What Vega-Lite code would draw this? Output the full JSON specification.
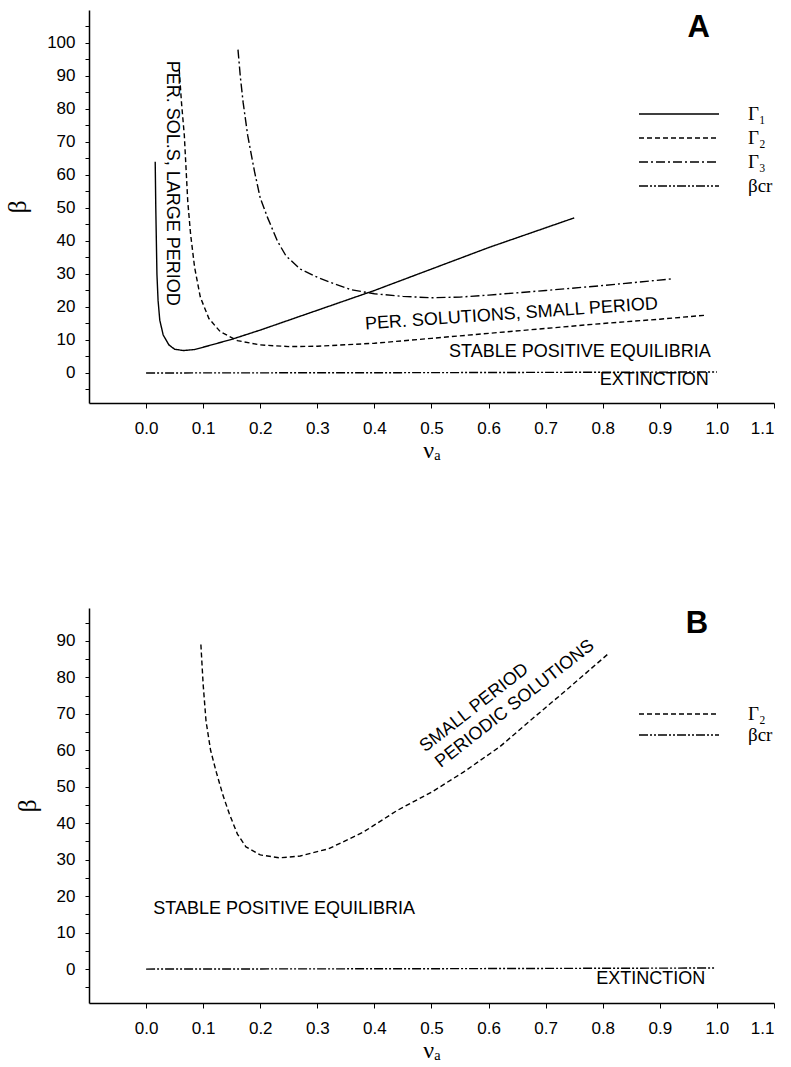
{
  "$schema": "https://vega.github.io/schema/vega-lite/v6.json",
  "padding": {"left": 4, "top": 10, "right": 5, "bottom": 3},
  "background": "white",
  "config": {
    "view": {"stroke": null},
    "font": "Liberation Sans",
    "axis": {"grid": false, "domainColor": "black", "domainWidth": 1.5, "tickColor": "black", "tickWidth": 1, "labelColor": "black", "labelFont": "Liberation Sans", "labelFontSize": 17, "titleColor": "black", "titleFont": "Liberation Serif", "titleFontWeight": "normal"},
    "legend": {"title": null, "orient": "none", "symbolType": "M-4,0H4", "symbolSize": 400, "symbolStrokeWidth": 1.4, "symbolStrokeColor": "black", "labelFont": "Liberation Serif", "labelFontSize": 19, "labelColor": "black", "labelOffset": 58}
  },
  "datasets": {
    "curvesA": [
      {"curve": "Γ₁", "x": 0.016, "y": 64},
      {"curve": "Γ₁", "x": 0.017, "y": 50},
      {"curve": "Γ₁", "x": 0.018, "y": 40},
      {"curve": "Γ₁", "x": 0.019, "y": 30},
      {"curve": "Γ₁", "x": 0.021, "y": 22},
      {"curve": "Γ₁", "x": 0.024, "y": 16},
      {"curve": "Γ₁", "x": 0.03, "y": 11.5},
      {"curve": "Γ₁", "x": 0.04, "y": 8.5},
      {"curve": "Γ₁", "x": 0.05, "y": 7.2},
      {"curve": "Γ₁", "x": 0.065, "y": 6.8},
      {"curve": "Γ₁", "x": 0.085, "y": 7.1},
      {"curve": "Γ₁", "x": 0.1, "y": 7.8},
      {"curve": "Γ₁", "x": 0.15, "y": 10.2},
      {"curve": "Γ₁", "x": 0.2, "y": 13},
      {"curve": "Γ₁", "x": 0.3, "y": 19},
      {"curve": "Γ₁", "x": 0.4, "y": 25},
      {"curve": "Γ₁", "x": 0.5, "y": 31.5},
      {"curve": "Γ₁", "x": 0.6, "y": 38},
      {"curve": "Γ₁", "x": 0.7, "y": 44},
      {"curve": "Γ₁", "x": 0.75, "y": 47},
      {"curve": "Γ₂", "x": 0.058, "y": 92},
      {"curve": "Γ₂", "x": 0.062, "y": 82},
      {"curve": "Γ₂", "x": 0.067, "y": 72},
      {"curve": "Γ₂", "x": 0.07, "y": 62},
      {"curve": "Γ₂", "x": 0.073, "y": 52},
      {"curve": "Γ₂", "x": 0.078, "y": 42},
      {"curve": "Γ₂", "x": 0.085, "y": 32},
      {"curve": "Γ₂", "x": 0.095, "y": 23},
      {"curve": "Γ₂", "x": 0.11, "y": 16.5},
      {"curve": "Γ₂", "x": 0.13, "y": 12.5},
      {"curve": "Γ₂", "x": 0.16, "y": 9.8},
      {"curve": "Γ₂", "x": 0.2, "y": 8.5},
      {"curve": "Γ₂", "x": 0.25, "y": 8},
      {"curve": "Γ₂", "x": 0.3, "y": 8.1},
      {"curve": "Γ₂", "x": 0.4, "y": 9},
      {"curve": "Γ₂", "x": 0.5, "y": 10.5},
      {"curve": "Γ₂", "x": 0.6, "y": 12},
      {"curve": "Γ₂", "x": 0.7, "y": 13.5},
      {"curve": "Γ₂", "x": 0.8, "y": 15},
      {"curve": "Γ₂", "x": 0.9, "y": 16.3},
      {"curve": "Γ₂", "x": 0.98, "y": 17.5},
      {"curve": "Γ₃", "x": 0.161, "y": 98},
      {"curve": "Γ₃", "x": 0.165, "y": 90},
      {"curve": "Γ₃", "x": 0.17, "y": 82},
      {"curve": "Γ₃", "x": 0.178, "y": 72},
      {"curve": "Γ₃", "x": 0.19, "y": 61},
      {"curve": "Γ₃", "x": 0.2, "y": 53},
      {"curve": "Γ₃", "x": 0.213, "y": 47},
      {"curve": "Γ₃", "x": 0.23, "y": 40},
      {"curve": "Γ₃", "x": 0.245, "y": 35.5},
      {"curve": "Γ₃", "x": 0.27, "y": 31.5},
      {"curve": "Γ₃", "x": 0.3, "y": 29},
      {"curve": "Γ₃", "x": 0.33, "y": 27},
      {"curve": "Γ₃", "x": 0.36, "y": 25.2},
      {"curve": "Γ₃", "x": 0.4, "y": 24},
      {"curve": "Γ₃", "x": 0.45, "y": 23.2},
      {"curve": "Γ₃", "x": 0.5, "y": 22.8},
      {"curve": "Γ₃", "x": 0.55, "y": 23},
      {"curve": "Γ₃", "x": 0.6, "y": 23.6},
      {"curve": "Γ₃", "x": 0.7, "y": 25},
      {"curve": "Γ₃", "x": 0.8, "y": 26.5},
      {"curve": "Γ₃", "x": 0.92, "y": 28.5},
      {"curve": "βcr", "x": 0.0, "y": 0},
      {"curve": "βcr", "x": 0.5, "y": 0.1},
      {"curve": "βcr", "x": 1.0, "y": 0.3}
    ],
    "curvesB": [
      {"curve": "Γ₂", "x": 0.096, "y": 89},
      {"curve": "Γ₂", "x": 0.1, "y": 78},
      {"curve": "Γ₂", "x": 0.105, "y": 68},
      {"curve": "Γ₂", "x": 0.113, "y": 60},
      {"curve": "Γ₂", "x": 0.123, "y": 54},
      {"curve": "Γ₂", "x": 0.135, "y": 47.5},
      {"curve": "Γ₂", "x": 0.146, "y": 42.5},
      {"curve": "Γ₂", "x": 0.16, "y": 37},
      {"curve": "Γ₂", "x": 0.175, "y": 33.5},
      {"curve": "Γ₂", "x": 0.2, "y": 31.3},
      {"curve": "Γ₂", "x": 0.234, "y": 30.5},
      {"curve": "Γ₂", "x": 0.27, "y": 31},
      {"curve": "Γ₂", "x": 0.32, "y": 33},
      {"curve": "Γ₂", "x": 0.38, "y": 37.5},
      {"curve": "Γ₂", "x": 0.44, "y": 43.5},
      {"curve": "Γ₂", "x": 0.5, "y": 48.5},
      {"curve": "Γ₂", "x": 0.556, "y": 54},
      {"curve": "Γ₂", "x": 0.62, "y": 61},
      {"curve": "Γ₂", "x": 0.672, "y": 68},
      {"curve": "Γ₂", "x": 0.74, "y": 77},
      {"curve": "Γ₂", "x": 0.81, "y": 86.5},
      {"curve": "βcr", "x": 0.0, "y": 0},
      {"curve": "βcr", "x": 0.5, "y": 0.1},
      {"curve": "βcr", "x": 0.995, "y": 0.3}
    ]
  },
  "resolve": {"scale": {"strokeDash": "independent"}, "legend": {"strokeDash": "independent"}},
  "spacing": 145,
  "vconcat": [
    {
      "width": 685,
      "height": 393,
      "encoding": {
        "x": {"field": "x", "type": "quantitative", "scale": {"domain": [-0.1, 1.1], "nice": false, "zero": false},
              "axis": {"title": "νₐ", "titleFontSize": 24, "titlePadding": 2, "values": [0, 0.1, 0.2, 0.3, 0.4, 0.5, 0.6, 0.7, 0.8, 0.9, 1.0, 1.1], "format": ".1f", "tickSize": 5, "labelPadding": 12}},
        "y": {"field": "y", "type": "quantitative", "scale": {"domain": [-9.1, 110], "nice": false, "zero": false},
              "axis": {"title": "β", "titleFontSize": 26, "titlePadding": 16, "values": [-5, 0, 5, 10, 15, 20, 25, 30, 35, 40, 45, 50, 55, 60, 65, 70, 75, 80, 85, 90, 95, 100, 105], "labelExpr": "datum.value >= 0 && datum.value % 10 == 0 ? datum.label : ''", "tickSize": 4, "labelPadding": 10}}
      },
      "layer": [
        {
          "data": {"name": "curvesA"},
          "mark": {"type": "line", "color": "black", "strokeWidth": 1.4},
          "encoding": {
            "strokeDash": {"field": "curve", "type": "nominal",
              "scale": {"domain": ["Γ₁", "Γ₂", "Γ₃", "βcr"], "range": [[1, 0], [5, 3], [9, 3, 2, 3], [9, 2, 2, 2, 2, 2]]},
              "legend": {"legendX": 579, "legendY": 93, "rowPadding": 3}}
          }
        },
        {
          "data": {"values": [{"label": "PER. SOL.S, LARGE PERIOD", "x": 0.046, "y": 57.5}]},
          "mark": {"type": "text", "angle": 90, "fontSize": 18, "color": "black", "align": "center", "baseline": "middle"},
          "encoding": {"text": {"field": "label"}}
        },
        {
          "data": {"values": [{"label": "PER. SOLUTIONS, SMALL PERIOD", "x": 0.64, "y": 17.8}]},
          "mark": {"type": "text", "angle": -4, "fontSize": 18, "color": "black", "align": "center", "baseline": "middle"},
          "encoding": {"text": {"field": "label"}}
        },
        {
          "data": {"values": [{"label": "STABLE POSITIVE EQUILIBRIA", "x": 0.76, "y": 6.4}, {"label": "EXTINCTION", "x": 0.89, "y": -2.1}]},
          "mark": {"type": "text", "fontSize": 18, "color": "black", "align": "center", "baseline": "middle"},
          "encoding": {"text": {"field": "label"}}
        },
        {
          "data": {"values": [{"label": "A", "x": 0.968, "y": 104.5}]},
          "mark": {"type": "text", "fontSize": 31, "fontWeight": "bold", "color": "black", "align": "center", "baseline": "middle"},
          "encoding": {"text": {"field": "label"}}
        }
      ]
    },
    {
      "width": 685,
      "height": 395,
      "encoding": {
        "x": {"field": "x", "type": "quantitative", "scale": {"domain": [-0.1, 1.1], "nice": false, "zero": false},
              "axis": {"title": "νₐ", "titleFontSize": 24, "titlePadding": 2, "values": [0, 0.1, 0.2, 0.3, 0.4, 0.5, 0.6, 0.7, 0.8, 0.9, 1.0, 1.1], "format": ".1f", "tickSize": 5, "labelPadding": 12}},
        "y": {"field": "y", "type": "quantitative", "scale": {"domain": [-9.3, 99], "nice": false, "zero": false},
              "axis": {"title": "β", "titleFontSize": 26, "titlePadding": 16, "values": [-5, 0, 5, 10, 15, 20, 25, 30, 35, 40, 45, 50, 55, 60, 65, 70, 75, 80, 85, 90, 95], "labelExpr": "datum.value >= 0 && datum.value % 10 == 0 ? datum.label : ''", "tickSize": 4, "labelPadding": 10}}
      },
      "layer": [
        {
          "data": {"name": "curvesB"},
          "mark": {"type": "line", "color": "black", "strokeWidth": 1.4},
          "encoding": {
            "strokeDash": {"field": "curve", "type": "nominal",
              "scale": {"domain": ["Γ₂", "βcr"], "range": [[5, 3], [9, 2, 2, 2, 2, 2]]},
              "legend": {"legendX": 579, "legendY": 95, "rowPadding": 0}}
          }
        },
        {
          "data": {"values": [{"label": "SMALL PERIOD", "x": 0.575, "y": 71.6}, {"label": "PERIODIC SOLUTIONS", "x": 0.646, "y": 72.7}]},
          "mark": {"type": "text", "angle": -38, "fontSize": 18, "color": "black", "align": "center", "baseline": "middle"},
          "encoding": {"text": {"field": "label"}}
        },
        {
          "data": {"values": [{"label": "STABLE POSITIVE EQUILIBRIA", "x": 0.242, "y": 16.5}, {"label": "EXTINCTION", "x": 0.884, "y": -2.7}]},
          "mark": {"type": "text", "fontSize": 18, "color": "black", "align": "center", "baseline": "middle"},
          "encoding": {"text": {"field": "label"}}
        },
        {
          "data": {"values": [{"label": "B", "x": 0.965, "y": 94.7}]},
          "mark": {"type": "text", "fontSize": 31, "fontWeight": "bold", "color": "black", "align": "center", "baseline": "middle"},
          "encoding": {"text": {"field": "label"}}
        }
      ]
    }
  ]
}
